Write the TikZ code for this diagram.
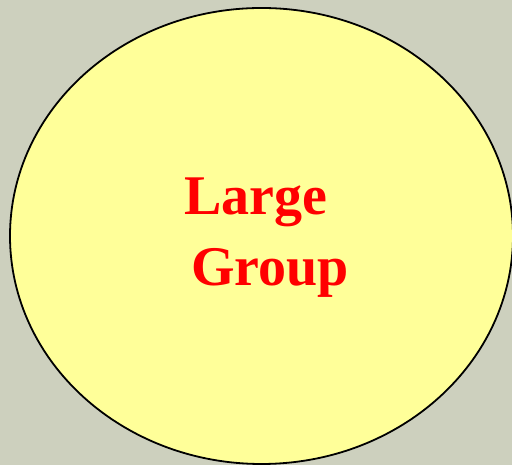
\documentclass[tikz,border=0pt]{standalone}
\usepackage{fontspec}
\setmainfont{Liberation Serif}
\definecolor{bgc}{HTML}{CDD0BE}
\definecolor{fillc}{HTML}{FFFF99}
\tikzset{lbl/.style={text=red,font=\fontsize{56}{66}\selectfont\bfseries,anchor=base,inner sep=0pt}}
\begin{document}
\begin{tikzpicture}[x=1pt,y=1pt]
\fill[bgc] (0,0) rectangle (512,465);
\useasboundingbox (0,0) rectangle (512,465);
\draw[fill=fillc,line width=1.8pt] (261.5,229) ellipse [x radius=251.5,y radius=228];
\node[lbl] (l1) at (256,250) {Large};
\node[lbl] (l2) at (270,179) {Group};
\end{tikzpicture}
\end{document}
